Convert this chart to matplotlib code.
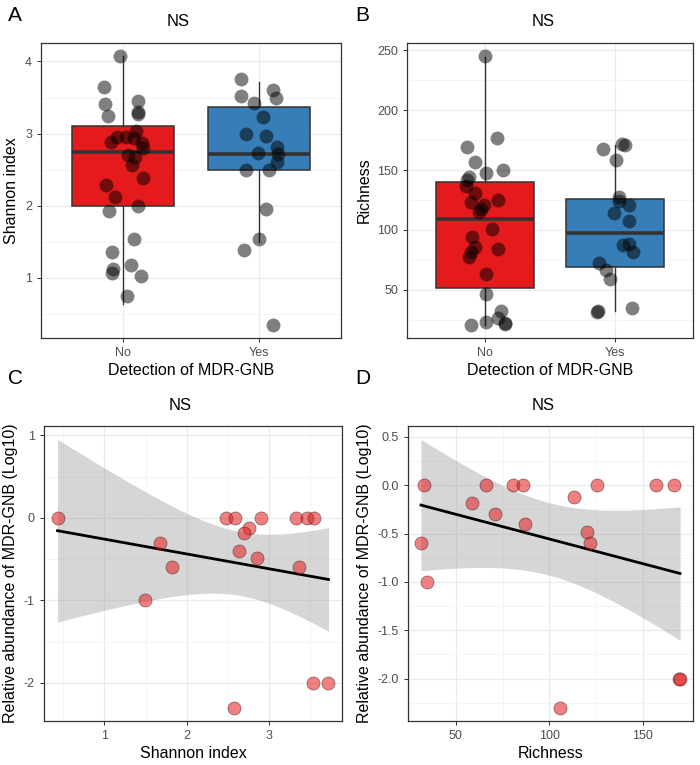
import numpy as np
import matplotlib
matplotlib.use('Agg')
import matplotlib.pyplot as plt
from matplotlib.ticker import MultipleLocator, FormatStrFormatter

plt.rcParams['font.family'] = ['Liberation Sans', 'DejaVu Sans']
plt.rcParams['axes.unicode_minus'] = False

# Panel A / B: groups and box statistics (q1, median, q3, whisker low, whisker high)
groups = ['No', 'Yes']
box_colors = ['#E41A1C', '#377EB8']

shannon_box = {
    'No': [1.99, 2.74, 3.10, 0.63, 4.07],
    'Yes': [2.50, 2.71, 3.37, 1.49, 3.71],
}
richness_box = {
    'No': [51.4, 108.9, 140.3, 20.8, 244.4],
    'Yes': [68.6, 97.2, 125.6, 31.9, 170.8],
}

# jittered points: (offset from category centre, value)
shannon_no = [4.07, 3.64, 3.41, 3.25, 3.45, 3.30, 3.27, 3.04, 2.95, 2.95,
              2.88, 2.94, 2.87, 2.80, 2.70, 2.68, 2.56, 2.38, 2.29, 2.12,
              1.99, 1.93, 1.54, 1.35, 1.17, 1.12, 1.06, 1.03, 0.75]
shannon_no_jit = [-0.02, -0.14, -0.13, -0.11, 0.11, 0.11, 0.11, 0.10, -0.04, 0.02,
                  -0.09, 0.08, 0.14, 0.15, 0.04, 0.09, 0.07, 0.15, -0.12, -0.06,
                  0.11, -0.10, 0.08, -0.08, 0.06, -0.07, -0.08, 0.13, 0.03]
shannon_yes = [3.75, 3.52, 3.61, 3.50, 3.42, 3.23, 2.99, 2.96, 2.81, 2.73,
               2.71, 2.61, 2.50, 2.50, 1.95, 1.54, 1.39, 0.35]
shannon_yes_jit = [-0.13, -0.13, 0.10, 0.12, -0.04, 0.03, -0.10, 0.05, 0.13, -0.01,
                   0.14, 0.13, -0.10, 0.07, 0.05, 0.00, -0.11, 0.10]

richness_no = [245, 176.4, 169.4, 157, 150, 147.2, 143.9, 141.7, 136.7, 131.1,
               125, 123.6, 120.8, 117.2, 115.3, 100.6, 94.4, 85.6, 84, 81.1,
               77.2, 63.3, 46.7, 32, 26.4, 22.8, 20.8, 22.2, 21]
richness_no_jit = [0.00, 0.09, -0.14, -0.08, 0.14, 0.01, -0.12, -0.14, -0.15, -0.08,
                   0.10, -0.11, -0.01, -0.03, -0.05, 0.05, -0.10, -0.08, 0.10, -0.11,
                   -0.12, 0.01, 0.01, 0.12, 0.10, 0.01, -0.11, 0.15, 0.15]
richness_yes = [168, 171.7, 170.8, 158.3, 127.2, 124.2, 120.8, 113.9, 107.8, 87.5,
                88, 81.9, 72.2, 66.7, 58.9, 32, 31.1, 34.7]
richness_yes_jit = [-0.09, 0.05, 0.08, 0.01, 0.03, 0.03, 0.11, -0.01, 0.11, 0.06,
                    0.11, 0.14, -0.12, -0.07, -0.04, -0.13, -0.14, 0.13]

# Panel C / D: MDR-GNB positive samples
abund = [0, 0, 0, 0, 0, 0, 0, -0.12, -0.18, -0.31,
         -0.40, -0.48, -0.60, -0.60, -1.0, -2.0, -2.0, -2.3]
shannon_pos = [0.43, 2.47, 2.59, 2.90, 3.33, 3.46, 3.54, 2.75, 2.69, 1.67,
               2.63, 2.85, 1.82, 3.36, 1.49, 3.53, 3.72, 2.57]
abund_r = [0, 0, 0, 0, 0, 0, 0, -0.12, -0.18, -0.30,
           -0.40, -0.48, -0.60, -0.60, -1.0, -2.0, -2.0, -2.3]
richness_pos = [33.2, 65.9, 80.6, 85.9, 125.7, 156.7, 166.8, 112.9, 58.5, 70.9,
                87.2, 119.9, 121.7, 31.4, 34.4, 169.4, 169.8, 105.7]

T_975_16 = 2.1199  # t quantile, 16 df


def expand(lo, hi, mult=0.05):
    r = hi - lo
    return lo - mult * r, hi + mult * r


def style_ax(ax):
    ax.set_facecolor('white')
    ax.grid(True, which='major', color='#EBEBEB', linewidth=0.9)
    ax.grid(True, which='minor', color='#F2F2F2', linewidth=0.5)
    ax.set_axisbelow(True)
    for s in ax.spines.values():
        s.set_color('#333333')
        s.set_linewidth(0.9)
    ax.tick_params(which='major', length=3, width=0.7, color='#333333',
                   labelcolor='#4D4D4D', labelsize=9)
    ax.tick_params(which='minor', length=0)


def box_panel(ax, box, pts, jit, ylabel, major, minor):
    stats = []
    for g in groups:
        q1, med, q3, lo, hi = box[g]
        stats.append({'q1': q1, 'med': med, 'q3': q3,
                      'whislo': lo, 'whishi': hi, 'fliers': []})
    bp = ax.bxp(stats, positions=[1, 2], widths=0.75, patch_artist=True,
                showcaps=False, showfliers=False,
                boxprops=dict(edgecolor='#333333', linewidth=1.1),
                medianprops=dict(color='#333333', linewidth=2.6),
                whiskerprops=dict(color='#333333', linewidth=1.0))
    for patch, c in zip(bp['boxes'], box_colors):
        patch.set_facecolor(c)
    allv = []
    for i, (vals, offs) in enumerate(zip(pts, jit)):
        xs = np.array(offs) + i + 1
        ax.scatter(xs, vals, s=100, color='black', alpha=0.5,
                   linewidths=0, zorder=4)
        allv += list(vals)
    ax.set_xlim(0.4, 2.6)
    ax.set_ylim(*expand(min(allv), max(allv)))
    ax.set_xticks([1, 2])
    ax.set_xticklabels(groups)
    ax.yaxis.set_major_locator(MultipleLocator(major))
    ax.yaxis.set_minor_locator(MultipleLocator(minor))
    style_ax(ax)
    ax.xaxis.grid(True, which='major', color='#EBEBEB', linewidth=0.9)
    ax.set_xlabel('Detection of MDR-GNB', fontsize=11.5, labelpad=3)
    ax.set_ylabel(ylabel, fontsize=11.5, labelpad=4)


def scatter_panel(ax, x, y, xlabel, xmajor, xminor, ymajor, yminor, yfmt):
    x = np.array(x, dtype=float)
    y = np.array(y, dtype=float)
    n = len(x)
    slope, intercept = np.polyfit(x, y, 1)
    resid = y - (slope * x + intercept)
    s = np.sqrt(np.sum(resid ** 2) / (n - 2))
    xg = np.linspace(x.min(), x.max(), 80)
    fit = slope * xg + intercept
    se = s * np.sqrt(1.0 / n + (xg - x.mean()) ** 2 / np.sum((x - x.mean()) ** 2))
    lo = fit - T_975_16 * se
    hi = fit + T_975_16 * se
    ax.fill_between(xg, lo, hi, color='#999999', alpha=0.4, linewidth=0, zorder=2)
    ax.plot(xg, fit, color='black', linewidth=2.0, zorder=3)
    ax.scatter(x, y, s=88, facecolor=(0.894, 0.102, 0.110, 0.55),
               edgecolor=(0.2, 0.1, 0.1, 0.5), linewidth=0.6, zorder=4)
    ax.set_xlim(*expand(x.min(), x.max()))
    ax.set_ylim(*expand(min(y.min(), lo.min()), max(y.max(), hi.max())))
    ax.xaxis.set_major_locator(MultipleLocator(xmajor))
    ax.xaxis.set_minor_locator(MultipleLocator(xminor))
    ax.yaxis.set_major_locator(MultipleLocator(ymajor))
    ax.yaxis.set_minor_locator(MultipleLocator(yminor))
    ax.yaxis.set_major_formatter(FormatStrFormatter(yfmt))
    style_ax(ax)
    ax.set_xlabel(xlabel, fontsize=11.5, labelpad=3)
    ax.set_ylabel('Relative abundance of MDR-GNB (Log10)', fontsize=11.5, labelpad=4)


def main():
    fig = plt.figure(figsize=(7, 7.65), dpi=100)
    W, H = 700.0, 765.0

    def box(l, t, r, b):
        return [l / W, 1 - b / H, (r - l) / W, (b - t) / H]

    ax_a = fig.add_axes(box(41, 43, 341, 338))
    ax_b = fig.add_axes(box(407, 43, 693, 338))
    ax_c = fig.add_axes(box(44, 426, 342, 721))
    ax_d = fig.add_axes(box(408, 426, 693, 721))

    box_panel(ax_a, shannon_box, [shannon_no, shannon_yes],
              [shannon_no_jit, shannon_yes_jit], 'Shannon index', 1, 0.5)
    box_panel(ax_b, richness_box, [richness_no, richness_yes],
              [richness_no_jit, richness_yes_jit], 'Richness', 50, 25)
    scatter_panel(ax_c, shannon_pos, abund, 'Shannon index', 1, 0.5, 1, 0.5, '%d')
    scatter_panel(ax_d, richness_pos, abund_r, 'Richness', 50, 25, 0.5, 0.25, '%.1f')

    # panel letters and titles
    for letter, x, y in [('A', 8, 6), ('B', 355, 6), ('C', 8, 369), ('D', 355, 369)]:
        fig.text(x / W, 1 - y / H, letter, fontsize=15, va='top', ha='left')
    for x, y in [(178, 21), (543, 21), (180, 406), (543, 406)]:
        fig.text(x / W, 1 - y / H, 'NS', fontsize=12, va='center', ha='center')

    fig.savefig('out.png', dpi=100)


if __name__ == '__main__':
    main()
